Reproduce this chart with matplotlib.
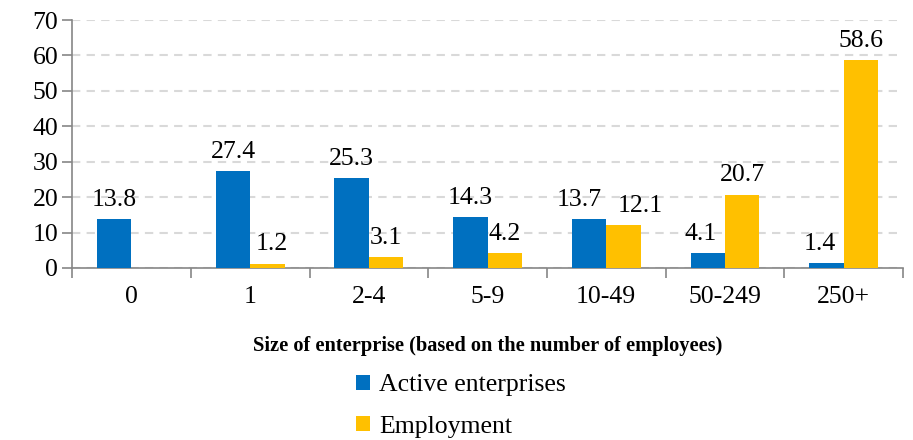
import matplotlib
matplotlib.use("Agg")
import matplotlib.pyplot as plt
import numpy as np

categories = ["0", "1", "2-4", "5-9", "10-49", "50-249", "250+"]
active = [13.8, 27.4, 25.3, 14.3, 13.7, 4.1, 1.4]
employment = [np.nan, 1.2, 3.1, 4.2, 12.1, 20.7, 58.6]
series_names = ["Active enterprises", "Employment"]
colors = ["#0070C0", "#FFC000"]
yticks = [0, 10, 20, 30, 40, 50, 60, 70]

plt.rcParams['font.family'] = ['Liberation Serif', 'DejaVu Serif']

fig = plt.figure(figsize=(9.13, 4.4), dpi=100)
ax = fig.add_axes([0.079, 0.391, 0.910, 0.5635])

x = np.arange(len(categories))
w = 0.29
b1 = ax.bar(x - w / 2, active, w, color=colors[0], label=series_names[0], zorder=3)
b2 = ax.bar(x + w / 2, np.nan_to_num(employment), w, color=colors[1], label=series_names[1], zorder=3)

FS = 18.5
# horizontal nudges (points) of a few data labels, as in the reference
nudge_active = {4: -7, 5: -5, 6: -5}
nudge_emp = {1: 3, 4: 12}
for i, (rect, v) in enumerate(zip(b1, active)):
    ax.annotate(f"{v:.1f}", (rect.get_x() + rect.get_width() / 2, v),
                xytext=(nudge_active.get(i, 0), 6), textcoords="offset points",
                ha="center", va="bottom", fontsize=FS)
for i, (rect, v) in enumerate(zip(b2, employment)):
    if np.isnan(v):
        continue
    ax.annotate(f"{v:.1f}", (rect.get_x() + rect.get_width() / 2, v),
                xytext=(nudge_emp.get(i, 0), 6), textcoords="offset points",
                ha="center", va="bottom", fontsize=FS)

ax.set_xlim(-0.5, len(categories) - 0.5)
ax.set_ylim(0, 70)
ax.set_yticks(yticks)
ax.set_yticklabels([str(t) for t in yticks], fontsize=FS)
ax.set_xticks(x)
ax.set_xticklabels(categories, fontsize=FS)
ax.set_xticks(np.arange(len(categories) + 1) - 0.5, minor=True)
ax.tick_params(axis='x', which='major', length=0, pad=13)
ax.tick_params(axis='x', which='minor', length=7, width=1.2, color="#868686", direction='out')
ax.tick_params(axis='y', length=7, width=1.2, color="#868686", pad=3)

ax.yaxis.grid(True, color="#D9D9D9", linestyle=(0, (4, 3)), linewidth=1.5, zorder=0)
ax.set_axisbelow(True)
for s in ["top", "right"]:
    ax.spines[s].set_visible(False)
for s in ["left", "bottom"]:
    ax.spines[s].set_color("#868686")
    ax.spines[s].set_linewidth(1.2)

ax.set_xlabel("Size of enterprise (based on the number of employees)",
              fontsize=14.7, fontweight="bold", labelpad=20)

fig.legend(handles=[b1, b2], labels=series_names, loc="upper center",
           bbox_to_anchor=(0.505, 0.149), ncol=1, frameon=False, fontsize=FS,
           handlelength=0.55, handleheight=0.55, handletextpad=0.35, labelspacing=0.75,
           borderaxespad=0, borderpad=0)

fig.savefig("out.png", dpi=100)
